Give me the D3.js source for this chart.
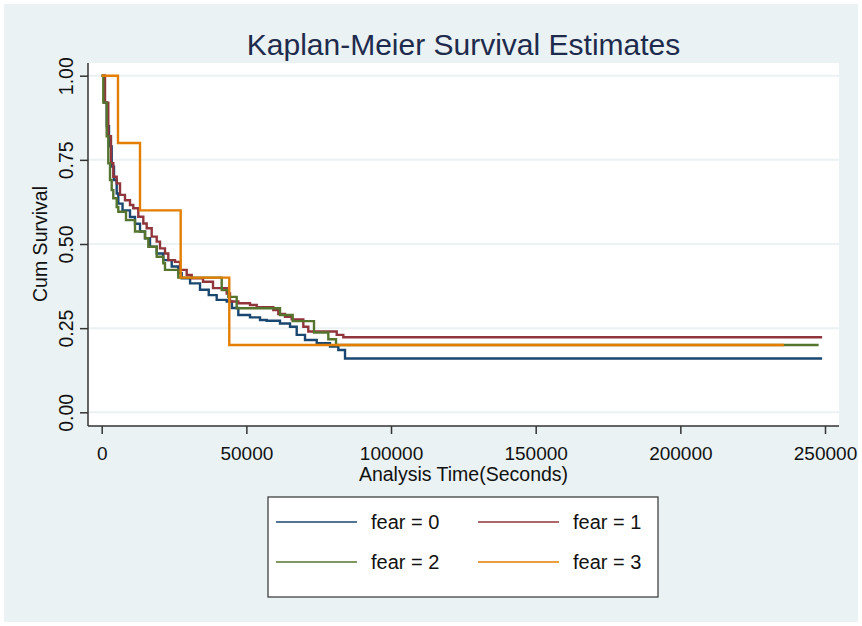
<!DOCTYPE html>
<html><head><meta charset="utf-8">
<script src="https://cdn.jsdelivr.net/npm/d3@7"></script>
<style>
body{margin:0;background:#fff}
svg{display:block}
text{font-family:"Liberation Sans",Arial,Helvetica,sans-serif}
</style>
</head><body><svg id="c" width="862" height="626"></svg>
<script>
// ---- data ----
const title = "Kaplan-Meier Survival Estimates";
const xTitle = "Analysis Time(Seconds)";
const yTitle = "Cum Survival";
const groups = ["fear = 0","fear = 1","fear = 2","fear = 3"];
const colors = ["#1A476F","#90353B","#55752F","#E37E00"];
const xTicks = [0,50000,100000,150000,200000,250000];
const yTicks = [0,0.25,0.5,0.75,1];
const yTickLabels = ["0.00","0.25","0.50","0.75","1.00"];

const time0 = [0,900,1730,2520,3460,4250,5185,5740,7200,9780,11510,13240,14970,16690,19010,21290,24200,26480,27650,30550,33980,37000,39750,43210,45000,47220,51260,54720,57030,61630,65090,67400,70270,74320,78910,81780,84100];
const surv0 = [1,0.92,0.85,0.79,0.73,0.69,0.65,0.62,0.60,0.58,0.56,0.537,0.517,0.492,0.472,0.452,0.433,0.413,0.398,0.383,0.364,0.348,0.334,0.329,0.31,0.289,0.282,0.274,0.272,0.264,0.254,0.23,0.215,0.205,0.195,0.185,0.160];

const time1 = [0,1140,2280,3210,4010,5185,6330,8050,9780,10920,12650,14380,15550,17280,19010,20150,21880,23020,25340,27070,29380,31110,35020,38470,43210,44350,47220,51260,53580,59320,61040,63360,65670,69690,71410,81230,83510];
const surv1 = [1,0.92,0.82,0.74,0.70,0.68,0.646,0.63,0.616,0.606,0.581,0.561,0.547,0.522,0.507,0.487,0.472,0.452,0.447,0.423,0.408,0.398,0.388,0.369,0.353,0.329,0.324,0.319,0.312,0.304,0.292,0.284,0.276,0.254,0.24,0.23,0.223];

const time2 = [0,550,1730,2280,2870,3460,4010,5185,5740,8400,11510,14970,16110,19010,21290,21880,26480,41480,43760,46660,61630,66020,73380,78330,80990];
const surv2 = [1,0.92,0.82,0.74,0.69,0.66,0.636,0.61,0.596,0.571,0.537,0.517,0.492,0.462,0.443,0.423,0.40,0.363,0.343,0.309,0.289,0.271,0.237,0.217,0.2];

const time3 = [0,5630,13240,27300,44100];
const surv3 = [1,0.8,0.6,0.4,0.2];

const endTimes = [249000,249000,247800,235800];

// ---- chart ----
const svg = d3.select("#c");
const W = 862, H = 626;
const plot = {l:88, r:839, t:63, b:426};

svg.append("rect").attr("x",0).attr("y",0).attr("width",W).attr("height",H).attr("fill","#ffffff");
svg.append("rect").attr("x",4).attr("y",4).attr("width",W-8).attr("height",H-8).attr("fill","#EAF2F3");
svg.append("rect").attr("x",plot.l).attr("y",plot.t).attr("width",plot.r-plot.l).attr("height",plot.b-plot.t).attr("fill","#ffffff");

const x = d3.scaleLinear().domain([0,250000]).range([101.7,825]);
const y = d3.scaleLinear().domain([0,1]).range([412.3,75.7]);

// grid
svg.append("g").selectAll("line").data(yTicks).join("line")
  .attr("x1",plot.l).attr("x2",plot.r)
  .attr("y1",d=>y(d)).attr("y2",d=>y(d))
  .attr("stroke","#EAF2F3").attr("stroke-width",2);

// axes
const yAxis = d3.axisLeft(y).tickValues(yTicks).tickSize(8).tickPadding(6)
  .tickFormat((d,i)=>yTickLabels[i]);
const gy = svg.append("g").attr("transform",`translate(${plot.l},0)`).call(yAxis);
gy.select(".domain").attr("d",`M0,${plot.t}V${plot.b}`).attr("stroke","#333").attr("stroke-width",1.5);
gy.selectAll(".tick line").attr("stroke","#333").attr("stroke-width",1.5);
gy.selectAll(".tick text")
  .attr("x",null).attr("dy",null)
  .attr("transform","translate(-15,0) rotate(-90)")
  .attr("text-anchor","middle").attr("y",0)
  .attr("font-size",19.5).attr("fill","#111");

const xAxis = d3.axisBottom(x).tickValues(xTicks).tickSize(8).tickPadding(6)
  .tickFormat(d=>String(d));
const gx = svg.append("g").attr("transform",`translate(0,${plot.b})`).call(xAxis);
gx.select(".domain").attr("d",`M${plot.l},0H${plot.r}`).attr("stroke","#333").attr("stroke-width",1.5);
gx.selectAll(".tick line").attr("stroke","#333").attr("stroke-width",1.5);
gx.selectAll(".tick text").attr("dy",null).attr("y",34).attr("font-size",19).attr("fill","#111");

// titles
svg.append("text").attr("x",463.5).attr("y",55).attr("text-anchor","middle")
  .attr("font-size",30).attr("fill","#1E2B4D").text(title);
svg.append("text").attr("x",463.5).attr("y",481).attr("text-anchor","middle")
  .attr("font-size",19.5).attr("fill","#111").text(xTitle);
svg.append("text").attr("transform","translate(46.5,244) rotate(-90)").attr("text-anchor","middle")
  .attr("font-size",19.5).attr("fill","#111").text(yTitle);

// curves
const times = [time0,time1,time2,time3];
const survs = [surv0,surv1,surv2,surv3];
const line = d3.line().x(d=>x(d[0])).y(d=>y(d[1])).curve(d3.curveStepAfter);
const g = svg.append("g");
groups.forEach((name,i)=>{
  const pts = times[i].map((t,j)=>[t,survs[i][j]]);
  pts.push([endTimes[i], survs[i][survs[i].length-1]]);
  g.append("path").datum(pts).attr("d",line)
    .attr("fill","none").attr("stroke",colors[i]).attr("stroke-width",2.4)
    .attr("stroke-linejoin","miter");
});

// legend
const lg = svg.append("g");
lg.append("rect").attr("x",268).attr("y",497).attr("width",390).attr("height",100)
  .attr("fill","#ffffff").attr("stroke","#333").attr("stroke-width",1.2);
const cols = [276,478], rows = [522,562];
groups.forEach((name,i)=>{
  const cx = cols[i%2], cy = rows[Math.floor(i/2)];
  lg.append("line").attr("x1",cx).attr("x2",cx+81).attr("y1",cy).attr("y2",cy)
    .attr("stroke",colors[i]).attr("stroke-width",1.6);
  lg.append("text").attr("x",cx+95).attr("y",cy+7).attr("font-size",20).attr("fill","#111").text(name);
});
</script>
</body></html>
